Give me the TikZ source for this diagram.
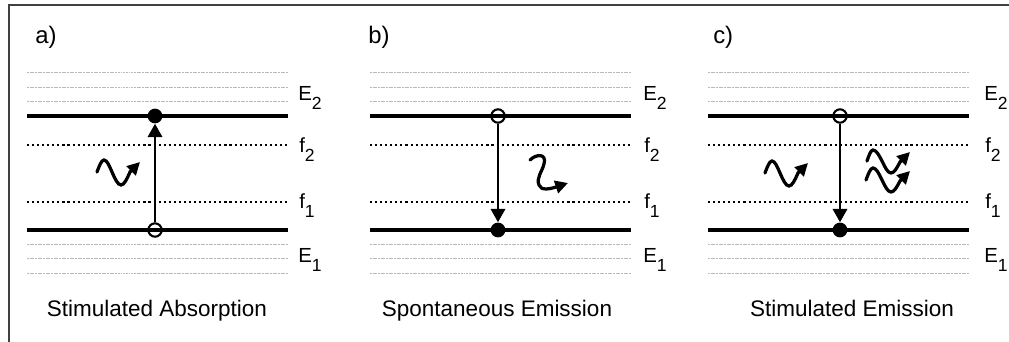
\documentclass[tikz,border=0pt]{standalone}
\usepackage{fontspec}
\setmainfont{Liberation Sans}
\usetikzlibrary{arrows.meta}

% lowered index for the level names
\newcommand{\lvsub}[1]{\raisebox{-6.5pt}{\fontsize{12.5}{12.5}\selectfont #1}}

\tikzset{
  level/.style={line width=3.5pt},
  sublevel/.style={line width=1.7pt, dash pattern=on 1.5pt off 2.1pt},
  faint/.style={draw=gray!55, line width=0.6pt, dash pattern=on 1.4pt off 0.5pt},
  trans/.style={line width=2.1pt, -{Triangle[length=9.5pt, width=10pt]}},
  photon/.style={line width=2.3pt, line cap=round, -{Triangle[length=9pt, width=9pt]}},
  fullstate/.style={circle, fill, inner sep=0pt, minimum size=10.5pt},
  openstate/.style={circle, draw, line width=1.5pt, inner sep=0pt, minimum size=9.5pt},
  lvlabel/.style={anchor=base west, font=\fontsize{14.5}{16}\selectfont, inner sep=0pt},
  caption/.style={anchor=base, font=\fontsize{16}{19}\selectfont, inner sep=0pt},
  paneltag/.style={anchor=base west, font=\fontsize{17}{19}\selectfont, inner sep=0pt}
}

\begin{document}
\begin{tikzpicture}[x=0.025cm, y=-0.025cm]
  \useasboundingbox (0,0) rectangle (1009,342);

  % Frame (top and left edge)
  \draw[line width=1.3pt, black!75] (1009,5) -- (9,5) -- (9,342);

  % Levels, level names, tags and captions of the three panels
  \foreach \px/\tag/\tx/\lx/\cx/\capt in {
    27/a/8/271/130/{Stimulated Absorption},
    370/b/-2/273/127/{Spontaneous Emission},
    708/c/5/276/144/{Stimulated Emission}
  } {
    \begin{scope}[shift={(\px,0)}]
      \foreach \y in {72,87,101,244,258,273}
        \draw[faint] (0,\y) -- (261,\y);
      \draw[sublevel] (0,145) -- (261,145);
      \draw[sublevel] (0,202) -- (261,202);
      \draw[level] (0,116) -- (261,116);
      \draw[level] (0,230) -- (261,230);
      \node[lvlabel] (E2\tag) at (\lx,100) {E\lvsub{2}};
      \node[lvlabel] (f2\tag) at (\lx+1,152) {f\lvsub{2}};
      \node[lvlabel] (f1\tag) at (\lx+1,208) {f\lvsub{1}};
      \node[lvlabel] (E1\tag) at (\lx,262) {E\lvsub{1}};
      \node[paneltag] (tag\tag) at (\tx,44) {\tag)};
      \node[caption] (cap\tag) at (\cx,316) {\capt};
    \end{scope}
  }

  % a) absorption
  \node[openstate] (lowa) at (155,230) {};
  \node[fullstate] (upa) at (155,116) {};
  \draw[trans] (lowa) -- (upa);
  \draw[photon] (97,172) sin (104,160) cos (112,172) sin (121,185) cos (130,172) -- (140,162);

  % b) spontaneous emission
  \node[openstate] (upb) at (498,116) {};
  \node[fullstate] (lowb) at (498,230) {};
  \draw[trans] (upb) -- (lowb);
  \draw[photon] (530,160) .. controls (536,154) and (547,153) .. (544,164)
    .. controls (542,172) and (536,178) .. (539,185)
    .. controls (541,191) and (550,189) .. (568,183);

  % c) stimulated emission
  \node[openstate] (upc) at (840,116) {};
  \node[fullstate] (lowc) at (840,230) {};
  \draw[trans] (upc) -- (lowc);
  \draw[photon] (765,173) sin (772,161) cos (780,173) sin (789,186) cos (798,173) -- (808,163);
  \draw[photon] (867,161) sin (873,150) cos (882,161) sin (891,173) cos (900,162) -- (910,152);
  \draw[photon] (866,180) sin (873,168) cos (882,180) sin (891,192) cos (900,181) -- (910,171);
\end{tikzpicture}
\end{document}
